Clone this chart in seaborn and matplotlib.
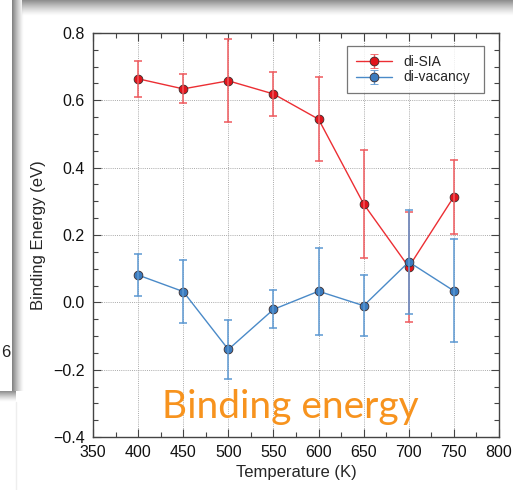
import numpy as np
import pandas as pd
import matplotlib.pyplot as plt
import seaborn as sns
from matplotlib.ticker import MultipleLocator

sns.set_theme(style='ticks')
plt.rcParams['font.family'] = ['Liberation Sans', 'DejaVu Sans']

# values (eV)
temps = [400, 450, 500, 550, 600, 650, 700, 750]
sia = [0.664, 0.634, 0.658, 0.619, 0.544, 0.292, 0.105, 0.314]
sia_lo = [0.611, 0.592, 0.536, 0.552, 0.421, 0.132, -0.058, 0.204]
sia_hi = [0.718, 0.678, 0.782, 0.685, 0.669, 0.452, 0.267, 0.423]
vac = [0.081, 0.032, -0.140, -0.021, 0.033, -0.010, 0.120, 0.034]
vac_lo = [0.020, -0.061, -0.228, -0.077, -0.097, -0.101, -0.035, -0.119]
vac_hi = [0.143, 0.126, -0.052, 0.037, 0.162, 0.082, 0.273, 0.187]

series = {
    'di-SIA': (sia, sia_lo, sia_hi, '#e1141c', '#ec2e33', '#ef5a5e'),
    'di-vacancy': (vac, vac_lo, vac_hi, '#3a7bbf', '#4a8ac8', '#5c98d2'),
}

fig = plt.figure(figsize=(5.13, 4.90), dpi=100)

# slide decorations around the chart (screenshot background)
bg = fig.add_axes([0, 0, 1, 1], zorder=-1)
bg.axis('off')


def shade(x0, x1, y0, y1, horizontal, dark=0.55):
    n = 32
    ramp = np.linspace(1, 0, n) ** 1.3
    rgba = np.zeros((1, n, 4)) if horizontal else np.zeros((n, 1, 4))
    rgba[..., :3] = dark
    rgba[..., 3] = ramp.reshape(rgba.shape[:2])
    bg.imshow(rgba, extent=(x0, x1, y1, y0), aspect='auto', interpolation='bilinear')


shade(12, 24, 0, 391, horizontal=True, dark=0.5)
shade(22, 513, 0, 16, horizontal=False, dark=0.55)
shade(0, 16, 391, 402, horizontal=False, dark=0.55)
bg.plot([16, 16], [402, 490], color='#eeeeee', lw=1)
bg.text(1, 352, '6', fontsize=12, ha='left', va='center', color='#222222')
bg.set_xlim(0, 513)
bg.set_ylim(490, 0)

ax = fig.add_axes([93 / 513, 53 / 490, 406 / 513, 404 / 490])

handles = []
for name, (val, lo, hi, mfc, lc, ec) in series.items():
    rows = []
    for t, v, a, b in zip(temps, val, lo, hi):
        rows += [(t, v), (t, a), (t, b)]
    df = pd.DataFrame(rows, columns=['T', 'E'])
    sns.lineplot(data=df, x='T', y='E', estimator='median',
                 errorbar=lambda s: (s.min(), s.max()), err_style='bars',
                 err_kws=dict(capsize=2.6, elinewidth=1.1, capthick=1.1, ecolor=ec),
                 color=lc, lw=1.0, marker='o', markersize=6.3,
                 markerfacecolor=mfc, markeredgecolor='#3a2a2a', markeredgewidth=0.6,
                 ax=ax, legend=False)
    h = ax.errorbar([np.nan], [np.nan], yerr=[np.nan], color=lc, ecolor=ec,
                    lw=1.0, capsize=2.6, marker='o', markersize=6.3,
                    markerfacecolor=mfc, markeredgecolor='#3a2a2a',
                    markeredgewidth=0.6, label=name)
    handles.append(h)

ax.set_xlim(350, 800)
ax.set_ylim(-0.4, 0.8)
ax.xaxis.set_major_locator(MultipleLocator(50))
ax.xaxis.set_minor_locator(MultipleLocator(25))
ax.yaxis.set_major_locator(MultipleLocator(0.2))
ax.yaxis.set_minor_locator(MultipleLocator(0.05))
ax.yaxis.set_major_formatter(plt.FuncFormatter(lambda v, p: f'{v:.1f}'.replace('-', '\u2212')))
ax.tick_params(which='both', direction='in', top=True, right=True,
               labelsize=11.5, colors='#444444', labelcolor='#111111')
ax.tick_params(which='major', length=6, width=0.8, pad=6)
ax.tick_params(which='minor', length=3.5, width=0.8)
ax.grid(True, which='major', ls=(0, (1, 1.2)), color='#aaaaaa', lw=0.7)
for s in ax.spines.values():
    s.set_color('#444444')
    s.set_linewidth(1)

ax.set_xlabel('Temperature (K)', fontsize=12, labelpad=3)
ax.set_ylabel('Binding Energy (eV)', fontsize=12, labelpad=5)

leg = ax.legend(handles=handles, loc='upper left',
                bbox_to_anchor=(0.6256, 0.8589, 0.3374, 0.1089), mode='expand',
                fontsize=10, frameon=True, fancybox=False, borderpad=0.65,
                labelspacing=0.1, handlelength=2.6, handletextpad=0.8,
                borderaxespad=0)
leg.get_frame().set_edgecolor('#555555')
leg.get_frame().set_linewidth(0.9)

fig.text(290 / 513, 1 - 418 / 490, 'Binding energy', family=['Lato', 'DejaVu Sans'],
         fontsize=28, color='#f7931e', ha='center', va='baseline')

fig.savefig('out.png', dpi=100)
